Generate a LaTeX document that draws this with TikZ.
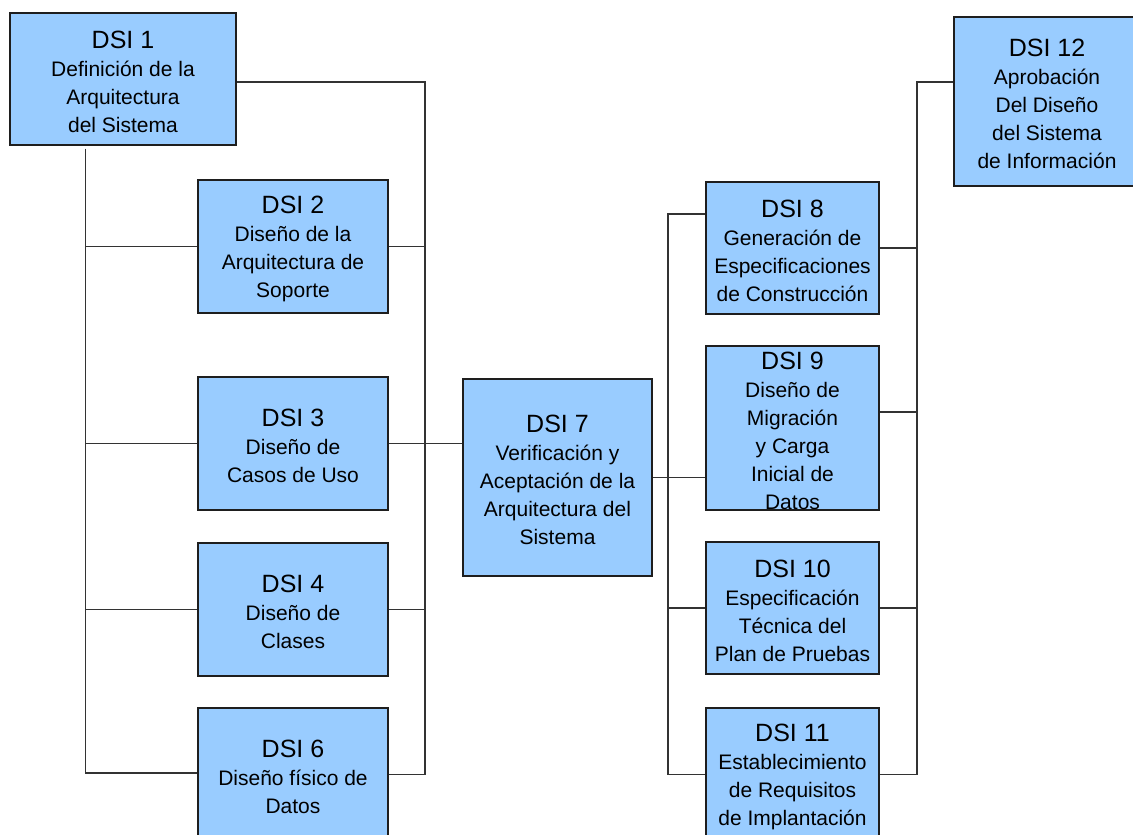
\documentclass[tikz,border=0pt]{standalone}
\usepackage{fontspec}
\setmainfont{Liberation Sans}
\definecolor{boxfill}{HTML}{99CCFF}
\definecolor{boxline}{HTML}{1E1E1E}
\definecolor{wire}{HTML}{333333}
% title line of each task box; the strut pushes the text block slightly down
\newcommand\dsititle{\rule{0pt}{23pt}\fontsize{25}{28}\selectfont}
\begin{document}
\begin{tikzpicture}[x=1pt,y=-1pt,
  task/.style={draw=boxline, line width=1.1pt, fill=boxfill, inner sep=0pt,
    align=center, font=\fontsize{21}{28}\selectfont},
  link/.style={draw=wire, line width=1.1pt}]
\useasboundingbox (0,0) rectangle (1133,835);
\clip (0,0) rectangle (1133,835);

% left group: DSI 1 to DSI 6
\node[task, minimum width=226pt, minimum height=132pt] (d1) at (123,79)
  {{\dsititle DSI 1}\\Definición de la\\Arquitectura\\del Sistema};
\node[task, minimum width=190pt, minimum height=133pt] (d2) at (293,246.5)
  {{\dsititle DSI 2}\\Diseño de la\\Arquitectura de\\Soporte};
\node[task, minimum width=190pt, minimum height=133pt] (d3) at (293,443.5)
  {{\dsititle DSI 3}\\Diseño de\\Casos de Uso};
\node[task, minimum width=190pt, minimum height=133pt] (d4) at (293,609.5)
  {{\dsititle DSI 4}\\Diseño de\\Clases};
\node[task, minimum width=190pt, minimum height=133pt] (d6) at (293,774.5)
  {{\dsititle DSI 6}\\Diseño físico de\\Datos};

% centre: DSI 7
\node[task, minimum width=189pt, minimum height=197pt] (d7) at (557.5,477.5)
  {{\dsititle DSI 7}\\Verificación y\\Aceptación de la\\Arquitectura del\\Sistema};

% right group: DSI 8 to DSI 12
\node[task, minimum width=173pt, minimum height=132pt] (d8) at (792.5,248)
  {{\dsititle DSI 8}\\Generación de\\Especificaciones\\de Construcción};
\node[task, minimum width=173pt, minimum height=164pt] (d9) at (792.5,428)
  {{\dsititle DSI 9}\\Diseño de\\Migración\\y Carga\\Inicial de\\Datos};
\node[task, minimum width=173pt, minimum height=132pt] (d10) at (792.5,608)
  {{\dsititle DSI 10}\\Especificación\\Técnica del\\Plan de Pruebas};
\node[task, minimum width=173pt, minimum height=133pt] (d11) at (792.5,774.5)
  {{\dsititle DSI 11}\\Establecimiento\\de Requisitos\\de Implantación};
\node[task, minimum width=186pt, minimum height=169pt] (d12) at (1047,101.5)
  {{\dsititle DSI 12}\\Aprobación\\Del Diseño\\del Sistema\\de Información};

% bus corners
\coordinate (busL) at (85.5,773);
\coordinate (busR) at (425,82);
\coordinate (busA) at (668,214);
\coordinate (busB) at (917,82);
\coordinate (tap9) at (917,412);

% left buses
\draw[link] ([yshift=-3pt]d1.south -| busL) -- (busL) -- (d6.west |- busL);
\draw[link] (d2.west -| busL) -- (d2.west);
\draw[link] (d3.west -| busL) -- (d3.west);
\draw[link] (d4.west -| busL) -- (d4.west);
\draw[link] (d1.east |- busR) -- (busR) |- (d6.east);
\draw[link] (d2.east) -- (d2.east -| busR);
\draw[link] (d4.east) -- (d4.east -| busR);
\draw[link] (d3.east) -- (d3.east -| d7.west);

% right buses
\draw[link] (d8.west |- busA) -- (busA) |- (d11.west);
\draw[link] (d10.west -| busA) -- (d10.west);
\draw[link] (d7.east) -- (d7.east -| d9.west);
\draw[link] (d12.west |- busB) -- (busB) |- (d11.east);
\draw[link] (d8.east) -- (d8.east -| busB);
\draw[link] (d9.east |- tap9) -- (tap9);
\draw[link] (d10.east) -- (d10.east -| busB);
\end{tikzpicture}
\end{document}
